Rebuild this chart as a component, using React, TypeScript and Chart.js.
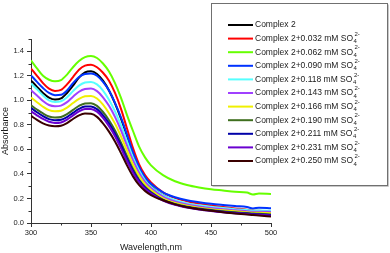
import React, { useEffect, useRef } from "react";
import { Chart, registerables } from "chart.js";

Chart.register(...registerables);

const wavelengths = [300, 305, 310, 315, 320, 325, 330, 335, 340, 345, 350, 355, 360, 365, 370, 375, 380, 385, 390, 395, 400, 410, 420, 430, 440, 450, 460, 470, 480, 485, 490, 500];

const complex2 = [1.163, 1.11, 1.06, 1.022, 1.006, 1.015, 1.06, 1.12, 1.185, 1.228, 1.237, 1.215, 1.16, 1.08, 0.975, 0.85, 0.71, 0.565, 0.45, 0.36, 0.3, 0.225, 0.18, 0.155, 0.14, 0.125, 0.113, 0.103, 0.095, 0.09, 0.087, 0.08];
const c0032 = [1.259, 1.2, 1.14, 1.095, 1.077, 1.085, 1.13, 1.19, 1.25, 1.283, 1.291, 1.27, 1.225, 1.16, 1.06, 0.93, 0.77, 0.61, 0.48, 0.39, 0.33, 0.25, 0.205, 0.178, 0.158, 0.143, 0.13, 0.119, 0.109, 0.101, 0.099, 0.09];
const c0062 = [1.326, 1.26, 1.2, 1.168, 1.155, 1.165, 1.21, 1.27, 1.32, 1.352, 1.361, 1.345, 1.3, 1.235, 1.14, 1.02, 0.88, 0.75, 0.625, 0.535, 0.47, 0.39, 0.34, 0.31, 0.29, 0.275, 0.265, 0.255, 0.248, 0.232, 0.24, 0.236];
const c0090 = [1.204, 1.15, 1.1, 1.06, 1.042, 1.045, 1.08, 1.14, 1.19, 1.215, 1.218, 1.2, 1.15, 1.08, 0.98, 0.86, 0.72, 0.575, 0.46, 0.375, 0.32, 0.25, 0.21, 0.185, 0.17, 0.157, 0.147, 0.138, 0.13, 0.118, 0.125, 0.12];
const c0118 = [1.137, 1.09, 1.04, 1.0, 0.987, 0.992, 1.025, 1.075, 1.12, 1.145, 1.15, 1.13, 1.08, 1.005, 0.91, 0.795, 0.665, 0.535, 0.43, 0.35, 0.295, 0.225, 0.185, 0.16, 0.145, 0.133, 0.122, 0.113, 0.106, 0.1, 0.102, 0.1];
const c0143 = [1.082, 1.04, 0.995, 0.962, 0.952, 0.957, 0.985, 1.03, 1.07, 1.092, 1.096, 1.075, 1.025, 0.955, 0.865, 0.755, 0.63, 0.51, 0.41, 0.335, 0.285, 0.215, 0.175, 0.15, 0.135, 0.122, 0.112, 0.103, 0.096, 0.092, 0.092, 0.09];
const c0166 = [1.023, 0.985, 0.948, 0.92, 0.911, 0.915, 0.94, 0.978, 1.012, 1.033, 1.036, 1.015, 0.965, 0.895, 0.81, 0.705, 0.59, 0.475, 0.385, 0.315, 0.268, 0.2, 0.163, 0.14, 0.125, 0.113, 0.103, 0.095, 0.088, 0.084, 0.083, 0.08];
const c0190 = [0.96, 0.925, 0.893, 0.868, 0.86, 0.864, 0.887, 0.922, 0.955, 0.975, 0.977, 0.955, 0.905, 0.838, 0.755, 0.655, 0.545, 0.44, 0.355, 0.295, 0.252, 0.19, 0.155, 0.133, 0.118, 0.106, 0.096, 0.088, 0.081, 0.077, 0.075, 0.07];
const c0211 = [0.938, 0.903, 0.871, 0.847, 0.838, 0.842, 0.864, 0.898, 0.93, 0.949, 0.95, 0.928, 0.878, 0.812, 0.73, 0.632, 0.525, 0.425, 0.345, 0.287, 0.247, 0.187, 0.152, 0.13, 0.114, 0.102, 0.092, 0.084, 0.077, 0.073, 0.071, 0.065];
const c0231 = [0.911, 0.878, 0.848, 0.825, 0.816, 0.82, 0.843, 0.877, 0.91, 0.93, 0.93, 0.908, 0.857, 0.79, 0.708, 0.61, 0.505, 0.41, 0.335, 0.28, 0.242, 0.183, 0.148, 0.126, 0.11, 0.098, 0.088, 0.08, 0.073, 0.069, 0.067, 0.06];
const c0250 = [0.873, 0.84, 0.812, 0.795, 0.789, 0.793, 0.815, 0.848, 0.878, 0.892, 0.89, 0.865, 0.812, 0.745, 0.665, 0.57, 0.47, 0.38, 0.31, 0.262, 0.228, 0.185, 0.152, 0.128, 0.112, 0.099, 0.088, 0.078, 0.07, 0.065, 0.061, 0.052];

const concentrations = ["", "0.032", "0.062", "0.090", "0.118", "0.143", "0.166", "0.190", "0.211", "0.231", "0.250"];
const seriesValues = [complex2, c0032, c0062, c0090, c0118, c0143, c0166, c0190, c0211, c0231, c0250];
const seriesColors = ["#000000", "#ff0000", "#66ff00", "#0033ff", "#55ffff", "#a040ff", "#f0f000", "#3f6f1f", "#0000a8", "#6a00d0", "#3a0000"];

const xMajorTicks = [300, 350, 400, 450, 500];
const xMinorTicks = [325, 375, 425, 475];
const yMinorTicks = [0.1, 0.3, 0.5, 0.7, 0.9, 1.1, 1.3, 1.5];

const FONT = '"Liberation Sans", Arial, sans-serif';
const SUFFIX = "SO\u2084\u00B2\u207B";

const isYMajor = (v: number) => Math.round(v * 10) % 2 === 0 && v < 1.45;

const minorTickPlugin = {
  id: "minorTicks",
  afterDraw(chart: any) {
    const ctx = chart.ctx;
    const xs = chart.scales.x;
    const ys = chart.scales.y;
    ctx.save();
    ctx.strokeStyle = "#333";
    ctx.lineWidth = 1;
    ctx.beginPath();
    xMinorTicks.forEach((v) => {
      const px = Math.round(xs.getPixelForValue(v)) + 0.5;
      ctx.moveTo(px, ys.bottom);
      ctx.lineTo(px, ys.bottom + 2.5);
    });
    yMinorTicks.forEach((v) => {
      const py = Math.round(ys.getPixelForValue(v)) + 0.5;
      ctx.moveTo(xs.left, py);
      ctx.lineTo(xs.left - 2.5, py);
    });
    ctx.stroke();
    ctx.restore();
  },
};

const boxLegendPlugin = {
  id: "boxLegend",
  afterDraw(chart: any) {
    const ctx = chart.ctx;
    ctx.save();
    const bx = 211.5, by = 3.5, bw = 176, bh = 182;
    ctx.fillStyle = "#ffffff";
    ctx.fillRect(bx, by, bw, bh);
    ctx.strokeStyle = "#c8c8c8";
    ctx.lineWidth = 1;
    ctx.beginPath();
    ctx.moveTo(bx + bw + 1, by + 1);
    ctx.lineTo(bx + bw + 1, by + bh + 1);
    ctx.lineTo(bx + 1, by + bh + 1);
    ctx.stroke();
    ctx.strokeStyle = "#707070";
    ctx.strokeRect(bx, by, bw, bh);
    chart.data.datasets.forEach((ds: any, i: number) => {
      const y = 25 + i * 13.6;
      ctx.strokeStyle = ds.borderColor;
      ctx.lineWidth = 2;
      ctx.beginPath();
      ctx.moveTo(228, y);
      ctx.lineTo(253, y);
      ctx.stroke();
      ctx.fillStyle = "#1a1a1a";
      ctx.textBaseline = "middle";
      ctx.textAlign = "left";
      ctx.font = `8.5px ${FONT}`;
      const label: string = ds.label;
      if (label.endsWith(SUFFIX)) {
        const base = label.slice(0, label.length - SUFFIX.length) + "SO";
        ctx.fillText(base, 255, y);
        const w = ctx.measureText(base).width;
        ctx.font = `6px ${FONT}`;
        ctx.fillText("4", 255 + w + 0.5, y + 3);
        ctx.fillText("2-", 255 + w + 1.5, y - 4.5);
      } else {
        ctx.fillText(label, 255, y);
      }
    });
    ctx.restore();
  },
};

export default function App() {
  const canvasRef = useRef<HTMLCanvasElement | null>(null);

  useEffect(() => {
    document.body.style.margin = "0";
    const canvas = canvasRef.current;
    if (!canvas) return;
    const datasets = seriesValues.map((vals, i) => ({
      label: concentrations[i] ? `Complex 2+${concentrations[i]} mM ${SUFFIX}` : "Complex 2",
      data: wavelengths.map((w, j) => ({ x: w, y: vals[j] })),
      borderColor: seriesColors[i],
      backgroundColor: seriesColors[i],
      borderWidth: 2,
      pointRadius: 0,
      cubicInterpolationMode: "monotone" as const,
      fill: false,
      order: 10 - i,
    }));
    const chart = new Chart(canvas, {
      type: "line",
      data: { datasets },
      options: {
        animation: false,
        responsive: false,
        events: [],
        layout: { padding: { left: 0, right: 119, top: 39, bottom: 0 } },
        plugins: { legend: { display: false }, tooltip: { enabled: false } },
        scales: {
          x: {
            type: "linear",
            min: 300,
            max: 500,
            afterFit: (s: any) => { s.height = 30; },
            border: { display: true, color: "#333", width: 1 },
            grid: { drawOnChartArea: false, tickLength: 4, color: "#333" },
            ticks: {
              stepSize: 50,
              autoSkip: false,
              maxRotation: 0,
              padding: 1,
              color: "#222",
              font: { family: FONT, size: 7.5 },
              callback: (v: any) => (xMajorTicks.includes(Number(v)) ? String(v) : ""),
            },
            title: {
              display: true,
              text: "Wavelength,nm",
              color: "#1a1a1a",
              font: { family: FONT, size: 9 },
              padding: { top: 0, bottom: 0 },
            },
          },
          y: {
            type: "linear",
            min: 0,
            max: 1.5,
            afterFit: (s: any) => { s.width = 31; },
            border: { display: true, color: "#333", width: 1 },
            grid: {
              drawOnChartArea: false,
              tickLength: 4,
              color: (c: any) => (c.tick && isYMajor(c.tick.value) ? "#333" : "rgba(0,0,0,0)"),
            },
            ticks: {
              stepSize: 0.1,
              autoSkip: false,
              padding: 3,
              color: "#222",
              font: { family: FONT, size: 7.5 },
              callback: (v: any) => (isYMajor(Number(v)) ? Number(v).toFixed(1) : ""),
            },
            title: {
              display: true,
              text: "Absorbance",
              color: "#1a1a1a",
              font: { family: FONT, size: 9 },
              padding: { top: 0, bottom: 0 },
            },
          },
        },
      },
      plugins: [minorTickPlugin, boxLegendPlugin],
    });
    return () => chart.destroy();
  }, []);

  return (
    <div style={{ width: 390, height: 253 }}>
      <canvas ref={canvasRef} width={390} height={253} style={{ display: "block" }} />
    </div>
  );
}
